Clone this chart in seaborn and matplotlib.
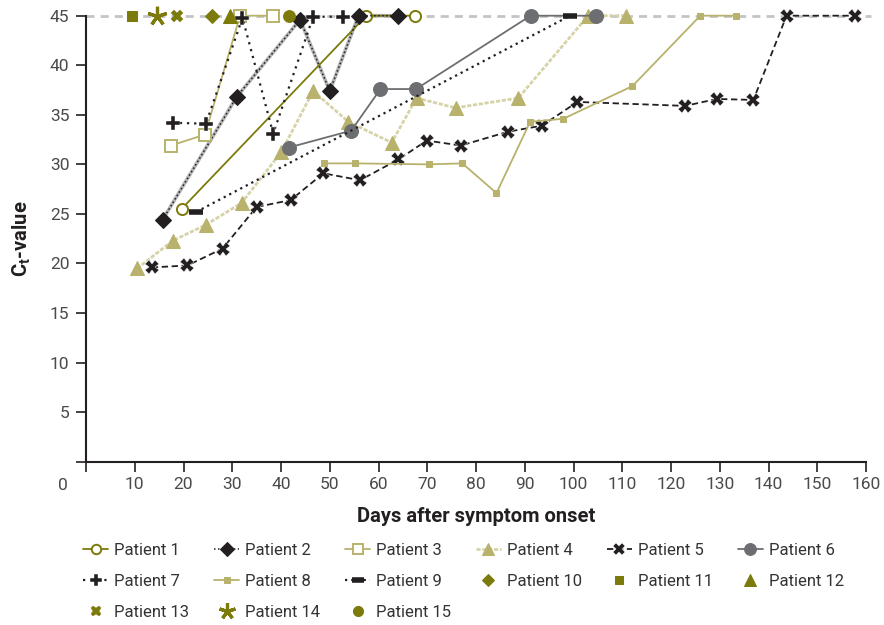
import matplotlib
matplotlib.use("Agg")
import matplotlib.pyplot as plt
import seaborn as sns
import pandas as pd

# ---------------- data ----------------
p1_x = [19.6, 57.5, 67.5]
p1_y = [25.5, 45, 45]
p2_x = [15.7, 30.9, 43.9, 50.0, 55.9, 64.1]
p2_y = [24.4, 36.8, 44.6, 37.4, 45, 45]
p3_x = [17.4, 24.4, 31.6, 38.3]
p3_y = [31.9, 33.0, 45, 45]
p4_x = [10.5, 17.8, 24.6, 31.9, 40.0, 46.6, 53.8, 62.7, 67.8, 75.8, 88.7, 103.0, 110.8]
p4_y = [19.5, 22.3, 23.9, 26.1, 31.2, 37.4, 34.3, 32.2, 36.7, 35.7, 36.7, 45, 45]
p5_x = [13.5, 20.8, 28.0, 35.0, 42.0, 48.7, 56.2, 64.1, 69.9, 76.9, 86.6, 93.5,
        100.8, 122.9, 129.4, 136.9, 143.7, 157.7]
p5_y = [19.6, 19.8, 21.5, 25.7, 26.4, 29.1, 28.4, 30.5, 32.4, 31.9, 33.3, 33.9,
        36.3, 35.9, 36.6, 36.5, 45, 45]
p6_x = [41.6, 54.4, 60.4, 67.7, 91.2, 104.6]
p6_y = [31.7, 33.4, 37.6, 37.6, 45, 45]
p7_x = [17.8, 24.6, 32.1, 38.4, 46.6, 52.8]
p7_y = [34.2, 34.1, 44.8, 33.1, 44.9, 44.9]
p8_x = [48.9, 55.2, 70.4, 77.2, 84.2, 91.1, 97.9, 112.1, 126.0, 133.3]
p8_y = [30.1, 30.1, 30.0, 30.1, 27.1, 34.3, 34.6, 37.9, 45, 45]
p9_x = [22.6, 99.3]
p9_y = [25.2, 45]
p10_x, p10_y = [25.8], [45]
p11_x, p11_y = [9.4], [45]
p12_x, p12_y = [29.5], [45]
p13_x, p13_y = [18.6], [45]
p14_x, p14_y = [14.5], [45]
p15_x, p15_y = [41.6], [45]

x_ticks = list(range(0, 161, 10))
y_ticks = list(range(0, 46, 5))
limit_ct = 45

# ---------------- style ----------------
sns.set_theme(style="ticks")
FONT = ["Roboto", "DejaVu Sans"]
plt.rcParams["font.family"] = FONT
plt.rcParams["mathtext.fontset"] = "custom"
plt.rcParams["mathtext.bf"] = "Roboto:bold"
plt.rcParams["mathtext.rm"] = "Roboto"

OLIVE = "#7d7a0c"
KHAKI = "#b8b26c"
LKHAKI = "#d6d3a8"
GRAY = "#6d6e71"
LGRAY = "#b4b4b4"
BLACK = "#231f20"

fig = plt.figure(figsize=(8.84, 6.25), dpi=100)
ax = fig.add_axes([86 / 884, 1 - 461.7 / 625, (866 - 86) / 884, (461.7 - 15.7) / 625])

# threshold line
ax.axhline(limit_ct, xmin=0, xmax=1.006, color="#c4c4c6", lw=2.0,
           dashes=(2.9, 2.2), clip_on=False, zorder=1)

common = dict(ax=ax, errorbar=None, clip_on=False, zorder=3)

# Patient 2 grey under-stroke (no legend)
sns.lineplot(x=p2_x, y=p2_y, color=LGRAY, lw=2.6, ax=ax, errorbar=None,
             clip_on=False, zorder=2, legend=False)

series = [
    ("Patient 1", p1_x, p1_y, dict(color=OLIVE, lw=1.3, marker="o", ms=8,
                                    mfc="white", mec=OLIVE, mew=1.4)),
    ("Patient 2", p2_x, p2_y, dict(color=BLACK, lw=1.1, linestyle=(0, (1, 1.6)),
                                    marker="D", ms=8, mfc=BLACK, mec=BLACK)),
    ("Patient 3", p3_x, p3_y, dict(color=KHAKI, lw=1.3, marker="s", ms=9,
                                    mfc="white", mec=KHAKI, mew=1.4)),
    ("Patient 4", p4_x, p4_y, dict(color=LKHAKI, lw=2.0, linestyle=(0, (1.5, 0.6)),
                                    marker="^", ms=10, mfc=KHAKI, mec=KHAKI)),
    ("Patient 5", p5_x, p5_y, dict(color=BLACK, lw=1.3, linestyle=(0, (3.5, 2)),
                                    marker="X", ms=10, mfc=BLACK, mec="white", mew=0.3)),
    ("Patient 6", p6_x, p6_y, dict(color=GRAY, lw=1.3, marker="o", ms=10,
                                    mfc=GRAY, mec=GRAY)),
    ("Patient 7", p7_x, p7_y, dict(color=BLACK, lw=1.6, linestyle=(0, (1, 2.2)),
                                    marker="P", ms=10, mfc=BLACK, mec="white", mew=0.3)),
    ("Patient 8", p8_x, p8_y, dict(color=KHAKI, lw=1.3, marker="s", ms=4.5,
                                    mfc=KHAKI, mec=KHAKI)),
    ("Patient 9", p9_x, p9_y, dict(color=BLACK, lw=1.6, linestyle=(0, (1, 1.8)),
                                    marker="_", ms=10, mew=4, mec=BLACK)),
    ("Patient 10", p10_x, p10_y, dict(color=OLIVE, linestyle="", marker="D", ms=7.5,
                                      mfc=OLIVE, mec=OLIVE)),
    ("Patient 11", p11_x, p11_y, dict(color=OLIVE, linestyle="", marker="s", ms=7.5,
                                      mfc=OLIVE, mec=OLIVE)),
    ("Patient 12", p12_x, p12_y, dict(color=OLIVE, linestyle="", marker="^", ms=10,
                                      mfc=OLIVE, mec=OLIVE)),
    ("Patient 13", p13_x, p13_y, dict(color=OLIVE, linestyle="", marker="X", ms=8.5,
                                      mfc=OLIVE, mec=OLIVE, mew=0.3)),
    ("Patient 14", p14_x, p14_y, dict(color=OLIVE, linestyle="", marker=(5, 2, 0),
                                      ms=14, mec=OLIVE, mew=2.3)),
    ("Patient 15", p15_x, p15_y, dict(color=OLIVE, linestyle="", marker="o", ms=8.5,
                                      mfc=OLIVE, mec=OLIVE)),
]

for label, xs, ys, kw in series:
    df = pd.DataFrame({"day": xs, "ct": ys})
    sns.lineplot(data=df, x="day", y="ct", label=label, sort=False, **common, **kw)

# ---------------- axes ----------------
ax.set_xlim(0, 160)
ax.set_ylim(0, 45)
ax.set_xticks(x_ticks)
ax.set_xticklabels(["" if t == 0 else str(t) for t in x_ticks])
ax.set_yticks(y_ticks)
ax.set_yticklabels(["" if t == 0 else str(t) for t in y_ticks])
for s in ("top", "right"):
    ax.spines[s].set_visible(False)
for s in ("left", "bottom"):
    ax.spines[s].set_linewidth(1.5)
    ax.spines[s].set_color("#231f20")
ax.tick_params(axis="both", direction="out", length=7, width=1.2, color="#231f20",
               labelsize=12.5, labelcolor="#4a4a4a")
ax.tick_params(axis="y", pad=5)
ax.tick_params(axis="x", pad=4)
ax.annotate("0", xy=(0, 0), xycoords="data", xytext=(-16.5, -17), textcoords="offset points",
            ha="center", va="center", fontsize=12.5, color="#4a4a4a")

ax.set_xlabel("Days after symptom onset", fontsize=14.5, fontweight="bold",
              color="#231f20", labelpad=11)
ax.set_ylabel(r"C$_\mathbf{t}$-value", fontsize=14.5, fontweight="bold",
              color="#231f20", labelpad=12)

# ---------------- legend ----------------
handles, labels = ax.get_legend_handles_labels()
order = [0, 6, 12, 1, 7, 13, 2, 8, 14, 3, 9, 4, 10, 5, 11]
ax.legend([handles[i] for i in order], [labels[i] for i in order],
          ncol=6, frameon=False, loc="upper left",
          bbox_to_anchor=(-0.012, -0.168), fontsize=12, labelcolor="#333333",
          handlelength=1.5, handletextpad=0.35, columnspacing=1.5,
          labelspacing=0.95, borderaxespad=0, markerscale=0.85)

fig.savefig("out.png", dpi=100)
